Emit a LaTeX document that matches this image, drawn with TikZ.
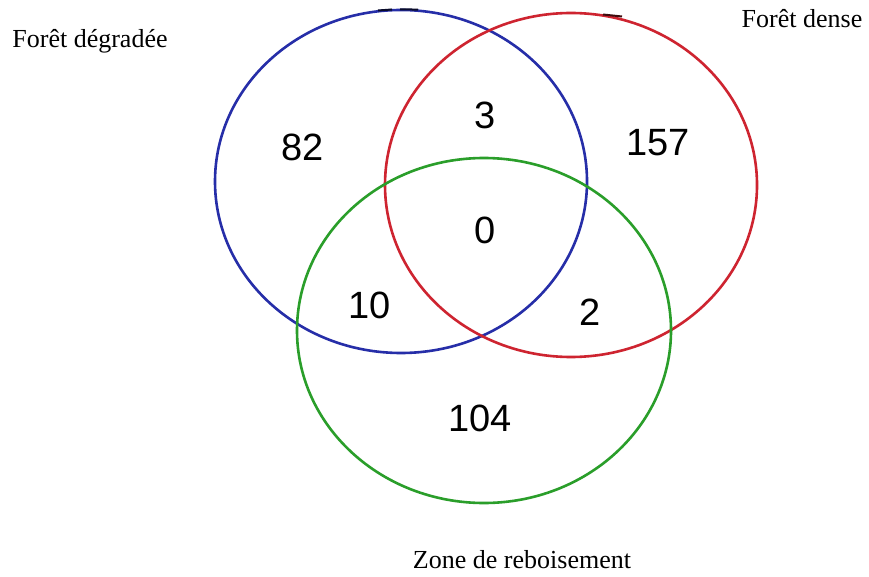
\documentclass[tikz,border=0pt]{standalone}
\usepackage{fontspec}
\setmainfont{Liberation Serif}
\newfontfamily\numfont{Liberation Sans}
\definecolor{setblue}{RGB}{38,46,168}
\definecolor{setred}{RGB}{206,36,48}
\definecolor{setgreen}{RGB}{42,158,42}
\tikzset{
  setring/.style={line width=2.6pt},
  count/.style={font=\numfont\fontsize{38}{40}\selectfont, inner sep=0pt},
  setname/.style={font=\fontsize{26}{28}\selectfont, inner sep=0pt, anchor=base}
}
\begin{document}
\begin{tikzpicture}[x=1pt,y=-1pt]
  \useasboundingbox[fill=white] (0,0) rectangle (869,577);

  % the three sets
  \draw[setring, setblue]  (401,181.5) ellipse [x radius=186pt, y radius=171.5pt];
  \draw[setring, setred]   (571,185)   ellipse [x radius=186pt, y radius=172pt];
  \draw[setring, setgreen] (484,330.5) ellipse [x radius=187pt, y radius=172.5pt];

  % small dark strokes along the top of the rings
  \draw[line width=2pt, black!75!setblue] (378,10.5) -- (392,9.5);
  \draw[line width=2pt, black!75!setblue] (400,9.3) -- (418,9.6);
  \draw[line width=2pt, black!70!setred]  (603,14.5) -- (622,16.5);

  % region counts
  \node[count] (only1)  at (303,147) {82};
  \node[count] (ab)     at (485,115) {3};
  \node[count] (only2)  at (658,143) {157};
  \node[count] (abc)    at (485,230) {0};
  \node[count] (ac)     at (370,305) {10};
  \node[count] (bc)     at (590,312) {2};
  \node[count] (only3)  at (480,418) {104};

  % set names
  \node[setname] (nameA) at (90,48)   {Forêt dégradée};
  \node[setname] (nameB) at (802,28)  {Forêt dense};
  \node[setname] (nameC) at (522,568) {Zone de reboisement};
\end{tikzpicture}
\end{document}
